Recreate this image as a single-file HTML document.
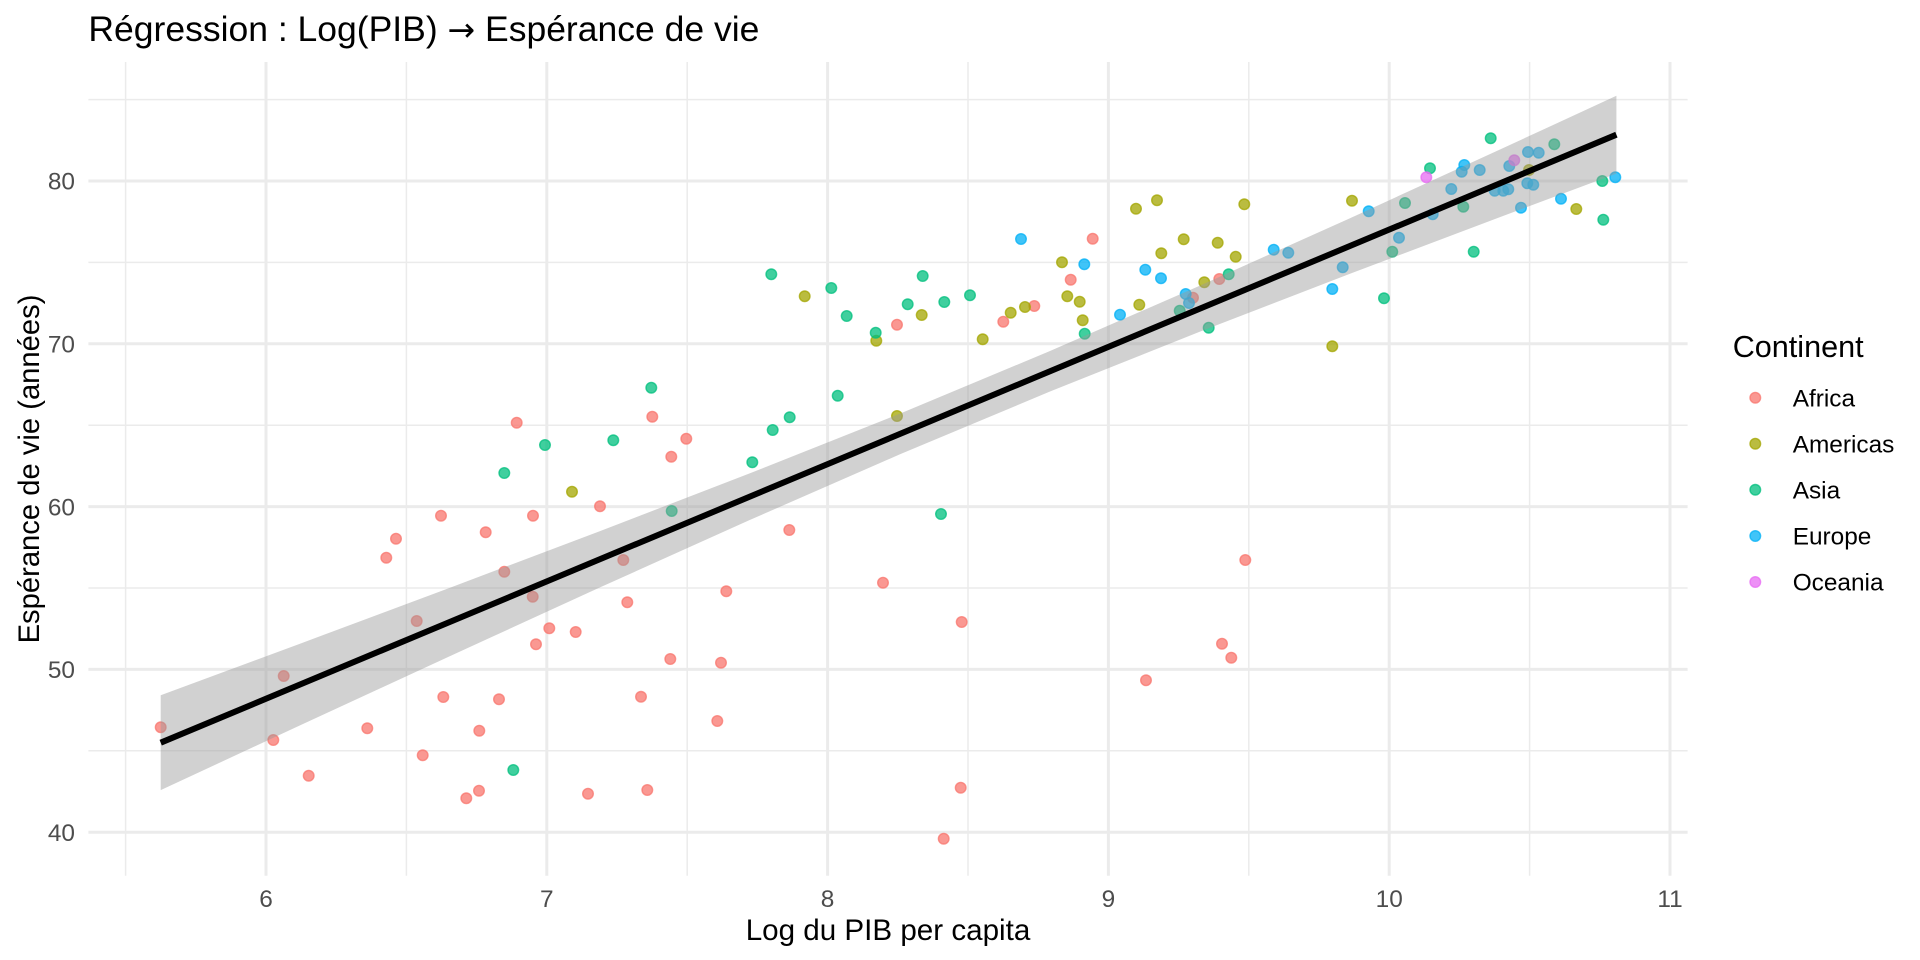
<!DOCTYPE html>
<html>
<head>
<meta charset="utf-8">
<style>
  html, body { margin: 0; padding: 0; background: #ffffff; }
  svg { display: block; }
  text { font-family: "Liberation Sans", "DejaVu Sans", Arial, sans-serif; }
</style>
</head>
<body>
<svg xmlns="http://www.w3.org/2000/svg" width="1920" height="960" viewBox="0 0 1920 960">
  <rect x="0" y="0" width="1920" height="960" fill="#ffffff"/>

  <g stroke="#EBEBEB" stroke-width="1.5" fill="none">
    <line x1="88.4" y1="99.6" x2="1687.6" y2="99.6"/>
    <line x1="88.4" y1="262.4" x2="1687.6" y2="262.4"/>
    <line x1="88.4" y1="425.2" x2="1687.6" y2="425.2"/>
    <line x1="88.4" y1="588" x2="1687.6" y2="588"/>
    <line x1="88.4" y1="750.8" x2="1687.6" y2="750.8"/>
    <line x1="125.6" y1="62" x2="125.6" y2="875.7"/>
    <line x1="406.4" y1="62" x2="406.4" y2="875.7"/>
    <line x1="687.2" y1="62" x2="687.2" y2="875.7"/>
    <line x1="968" y1="62" x2="968" y2="875.7"/>
    <line x1="1248.8" y1="62" x2="1248.8" y2="875.7"/>
    <line x1="1529.6" y1="62" x2="1529.6" y2="875.7"/>
  </g>
  <g stroke="#EBEBEB" stroke-width="3" fill="none">
    <line x1="88.4" y1="181" x2="1687.6" y2="181"/>
    <line x1="88.4" y1="343.8" x2="1687.6" y2="343.8"/>
    <line x1="88.4" y1="506.6" x2="1687.6" y2="506.6"/>
    <line x1="88.4" y1="669.4" x2="1687.6" y2="669.4"/>
    <line x1="88.4" y1="832.2" x2="1687.6" y2="832.2"/>
    <line x1="266" y1="62" x2="266" y2="875.7"/>
    <line x1="546.8" y1="62" x2="546.8" y2="875.7"/>
    <line x1="827.6" y1="62" x2="827.6" y2="875.7"/>
    <line x1="1108.4" y1="62" x2="1108.4" y2="875.7"/>
    <line x1="1389.2" y1="62" x2="1389.2" y2="875.7"/>
    <line x1="1670" y1="62" x2="1670" y2="875.7"/>
  </g>

  <g fill="#F8766D" stroke="#F8766D" fill-opacity="0.75" stroke-opacity="0.75" stroke-width="1.4">
    <circle cx="516.7" cy="422.7" r="5.3"/>
    <circle cx="600" cy="506.3" r="5.3"/>
    <circle cx="441" cy="515.7" r="5.3"/>
    <circle cx="533" cy="515.7" r="5.3"/>
    <circle cx="485.7" cy="532.3" r="5.3"/>
    <circle cx="396" cy="538.7" r="5.3"/>
    <circle cx="386.3" cy="557.7" r="5.3"/>
    <circle cx="504.3" cy="571.7" r="5.3"/>
    <circle cx="623.3" cy="560" r="5.3"/>
    <circle cx="532.7" cy="596.7" r="5.3"/>
    <circle cx="627.3" cy="602.3" r="5.3"/>
    <circle cx="416.7" cy="621" r="5.3"/>
    <circle cx="549.3" cy="628.3" r="5.3"/>
    <circle cx="575.7" cy="632" r="5.3"/>
    <circle cx="536" cy="644.3" r="5.3"/>
    <circle cx="283.7" cy="676" r="5.3"/>
    <circle cx="443.3" cy="697" r="5.3"/>
    <circle cx="499" cy="699.3" r="5.3"/>
    <circle cx="641" cy="696.8" r="5.3"/>
    <circle cx="160.7" cy="727.3" r="5.3"/>
    <circle cx="367.3" cy="728.3" r="5.3"/>
    <circle cx="479.3" cy="730.7" r="5.3"/>
    <circle cx="273.3" cy="740" r="5.3"/>
    <circle cx="422.7" cy="755.3" r="5.3"/>
    <circle cx="308.7" cy="775.7" r="5.3"/>
    <circle cx="479" cy="790.7" r="5.3"/>
    <circle cx="466.3" cy="798.3" r="5.3"/>
    <circle cx="588" cy="793.7" r="5.3"/>
    <circle cx="1092.7" cy="238.7" r="5.3"/>
    <circle cx="1070.7" cy="279.7" r="5.3"/>
    <circle cx="897" cy="324.7" r="5.3"/>
    <circle cx="1003.3" cy="321.7" r="5.3"/>
    <circle cx="1034.3" cy="306" r="5.3"/>
    <circle cx="652.3" cy="416.7" r="5.3"/>
    <circle cx="686.3" cy="438.7" r="5.3"/>
    <circle cx="671.3" cy="456.7" r="5.3"/>
    <circle cx="789.3" cy="530" r="5.3"/>
    <circle cx="883" cy="582.7" r="5.3"/>
    <circle cx="726.3" cy="591.3" r="5.3"/>
    <circle cx="961.7" cy="622" r="5.3"/>
    <circle cx="670.3" cy="659" r="5.3"/>
    <circle cx="721" cy="662.7" r="5.3"/>
    <circle cx="717.3" cy="721" r="5.3"/>
    <circle cx="647.3" cy="790" r="5.3"/>
    <circle cx="960.7" cy="787.7" r="5.3"/>
    <circle cx="943.7" cy="838.7" r="5.3"/>
    <circle cx="1219.3" cy="279" r="5.3"/>
    <circle cx="1193" cy="297.7" r="5.3"/>
    <circle cx="1245.3" cy="560" r="5.3"/>
    <circle cx="1222" cy="643.7" r="5.3"/>
    <circle cx="1231.3" cy="657.7" r="5.3"/>
    <circle cx="1146" cy="680.3" r="5.3"/>
  </g>

  <g fill="#A3A500" stroke="#A3A500" fill-opacity="0.75" stroke-opacity="0.75" stroke-width="1.4">
    <circle cx="572" cy="491.7" r="5.3"/>
    <circle cx="1062" cy="262.3" r="5.3"/>
    <circle cx="804.7" cy="296.3" r="5.3"/>
    <circle cx="921.7" cy="315" r="5.3"/>
    <circle cx="876.3" cy="340.7" r="5.3"/>
    <circle cx="982.7" cy="339.3" r="5.3"/>
    <circle cx="1010.7" cy="312.7" r="5.3"/>
    <circle cx="1025" cy="307" r="5.3"/>
    <circle cx="1067.3" cy="296.3" r="5.3"/>
    <circle cx="1079.7" cy="301.7" r="5.3"/>
    <circle cx="1082.7" cy="320.3" r="5.3"/>
    <circle cx="897" cy="416" r="5.3"/>
    <circle cx="1139.3" cy="304.7" r="5.3"/>
    <circle cx="1136" cy="208.7" r="5.3"/>
    <circle cx="1157" cy="200.3" r="5.3"/>
    <circle cx="1244.3" cy="204.3" r="5.3"/>
    <circle cx="1183.7" cy="239.3" r="5.3"/>
    <circle cx="1161.3" cy="253.3" r="5.3"/>
    <circle cx="1217.7" cy="242.7" r="5.3"/>
    <circle cx="1235.7" cy="256.7" r="5.3"/>
    <circle cx="1204.3" cy="282.3" r="5.3"/>
    <circle cx="1352" cy="200.7" r="5.3"/>
    <circle cx="1332.3" cy="346.3" r="5.3"/>
    <circle cx="1529" cy="170" r="5.3"/>
    <circle cx="1576.3" cy="209" r="5.3"/>
  </g>

  <g fill="#00BF7D" stroke="#00BF7D" fill-opacity="0.75" stroke-opacity="0.75" stroke-width="1.4">
    <circle cx="545" cy="445" r="5.3"/>
    <circle cx="613.3" cy="440.3" r="5.3"/>
    <circle cx="504.3" cy="473" r="5.3"/>
    <circle cx="513.3" cy="770" r="5.3"/>
    <circle cx="771.3" cy="274.3" r="5.3"/>
    <circle cx="831.3" cy="288" r="5.3"/>
    <circle cx="922.7" cy="276" r="5.3"/>
    <circle cx="846.7" cy="316" r="5.3"/>
    <circle cx="907.7" cy="304.3" r="5.3"/>
    <circle cx="944.3" cy="302" r="5.3"/>
    <circle cx="970" cy="295.3" r="5.3"/>
    <circle cx="875.7" cy="332.7" r="5.3"/>
    <circle cx="1084.7" cy="333.7" r="5.3"/>
    <circle cx="651.3" cy="387.7" r="5.3"/>
    <circle cx="837.7" cy="395.7" r="5.3"/>
    <circle cx="789.7" cy="417.3" r="5.3"/>
    <circle cx="772.7" cy="430" r="5.3"/>
    <circle cx="752.3" cy="462.3" r="5.3"/>
    <circle cx="671.7" cy="511" r="5.3"/>
    <circle cx="941" cy="514" r="5.3"/>
    <circle cx="1228.7" cy="274.3" r="5.3"/>
    <circle cx="1179.7" cy="310.7" r="5.3"/>
    <circle cx="1208.7" cy="327.7" r="5.3"/>
    <circle cx="1384" cy="298.3" r="5.3"/>
    <circle cx="1405" cy="203" r="5.3"/>
    <circle cx="1392.3" cy="251.7" r="5.3"/>
    <circle cx="1430" cy="168.3" r="5.3"/>
    <circle cx="1463.3" cy="206.7" r="5.3"/>
    <circle cx="1473.7" cy="251.7" r="5.3"/>
    <circle cx="1490.7" cy="138.3" r="5.3"/>
    <circle cx="1554.3" cy="144.3" r="5.3"/>
    <circle cx="1602.3" cy="181" r="5.3"/>
    <circle cx="1603.3" cy="219.7" r="5.3"/>
  </g>

  <g fill="#00B0F6" stroke="#00B0F6" fill-opacity="0.75" stroke-opacity="0.75" stroke-width="1.4">
    <circle cx="1021" cy="239" r="5.3"/>
    <circle cx="1084.3" cy="264.3" r="5.3"/>
    <circle cx="1120" cy="314.7" r="5.3"/>
    <circle cx="1145.3" cy="269.7" r="5.3"/>
    <circle cx="1161" cy="278.3" r="5.3"/>
    <circle cx="1185.7" cy="294" r="5.3"/>
    <circle cx="1189" cy="303" r="5.3"/>
    <circle cx="1273.7" cy="249.7" r="5.3"/>
    <circle cx="1288.3" cy="252.7" r="5.3"/>
    <circle cx="1368.7" cy="211.3" r="5.3"/>
    <circle cx="1342.7" cy="267.3" r="5.3"/>
    <circle cx="1332.3" cy="289" r="5.3"/>
    <circle cx="1399" cy="237.7" r="5.3"/>
    <circle cx="1432.7" cy="214.3" r="5.3"/>
    <circle cx="1451.3" cy="189" r="5.3"/>
    <circle cx="1461.7" cy="171.7" r="5.3"/>
    <circle cx="1464.3" cy="165" r="5.3"/>
    <circle cx="1479.7" cy="170" r="5.3"/>
    <circle cx="1494.7" cy="190.7" r="5.3"/>
    <circle cx="1503.3" cy="190.7" r="5.3"/>
    <circle cx="1508.3" cy="189.3" r="5.3"/>
    <circle cx="1509.3" cy="166" r="5.3"/>
    <circle cx="1521" cy="207.7" r="5.3"/>
    <circle cx="1527.3" cy="183.3" r="5.3"/>
    <circle cx="1533.3" cy="184.7" r="5.3"/>
    <circle cx="1528" cy="152" r="5.3"/>
    <circle cx="1538.7" cy="152.7" r="5.3"/>
    <circle cx="1561" cy="198.7" r="5.3"/>
    <circle cx="1615.3" cy="177.3" r="5.3"/>
  </g>

  <g fill="#E76BF3" stroke="#E76BF3" fill-opacity="0.75" stroke-opacity="0.75" stroke-width="1.4">
    <circle cx="1426.3" cy="177.3" r="5.3"/>
    <circle cx="1514.3" cy="160.3" r="5.3"/>
  </g>

  <polygon fill="#999999" fill-opacity="0.45" stroke="none"
    points="160.7,695.3 300,643.7 450,587.7 600,531.1 750,473.3 900,413.6 1050,351.0 1200,285.6 1350,218.2 1500,149.5 1616.4,95.8 1616.4,173.6 1500,217.1 1350,273.8 1200,331.6 1050,391.5 900,454.3 750,519.9 600,587.4 450,656.1 300,725.4 160.7,790.1"/>

  <line x1="160.7" y1="742.7" x2="1616.4" y2="134.7" stroke="#000000" stroke-width="6"/>

  <g fill="#4D4D4D" font-size="24.4" text-anchor="end">
    <text x="75" y="189.7">80</text>
    <text x="75" y="352.5">70</text>
    <text x="75" y="515.3">60</text>
    <text x="75" y="678.1">50</text>
    <text x="75" y="840.9">40</text>
  </g>
  <g fill="#4D4D4D" font-size="24.4" text-anchor="middle">
    <text x="266" y="907">6</text>
    <text x="546.8" y="907">7</text>
    <text x="827.6" y="907">8</text>
    <text x="1108.4" y="907">9</text>
    <text x="1389.2" y="907">10</text>
    <text x="1670" y="907">11</text>
  </g>

  <text x="888" y="940" font-size="29.6" fill="#000000" text-anchor="middle">Log du PIB per capita</text>
  <text transform="translate(39,469) rotate(-90)" font-size="29.2" fill="#000000" text-anchor="middle">Espérance de vie (années)</text>

  <text x="88.4" y="41" font-size="35.5" fill="#000000">Régression : Log(PIB) <tspan font-family="DejaVu Sans, sans-serif" font-size="33">→</tspan> Espérance de vie</text>

  <text x="1732.7" y="357" font-size="30.6" fill="#000000">Continent</text>
  <g stroke-width="1.4" fill-opacity="0.75" stroke-opacity="0.75">
    <circle cx="1755.3" cy="397.7" r="5.3" fill="#F8766D" stroke="#F8766D"/>
    <circle cx="1755.3" cy="443.7" r="5.3" fill="#A3A500" stroke="#A3A500"/>
    <circle cx="1755.3" cy="489.8" r="5.3" fill="#00BF7D" stroke="#00BF7D"/>
    <circle cx="1755.3" cy="536" r="5.3" fill="#00B0F6" stroke="#00B0F6"/>
    <circle cx="1755.3" cy="582" r="5.3" fill="#E76BF3" stroke="#E76BF3"/>
  </g>
  <g font-size="24.4" fill="#000000">
    <text x="1792.7" y="406.4">Africa</text>
    <text x="1792.7" y="452.4">Americas</text>
    <text x="1792.7" y="498.5">Asia</text>
    <text x="1792.7" y="544.7">Europe</text>
    <text x="1792.7" y="590.7">Oceania</text>
  </g>
</svg>
</body>
</html>
